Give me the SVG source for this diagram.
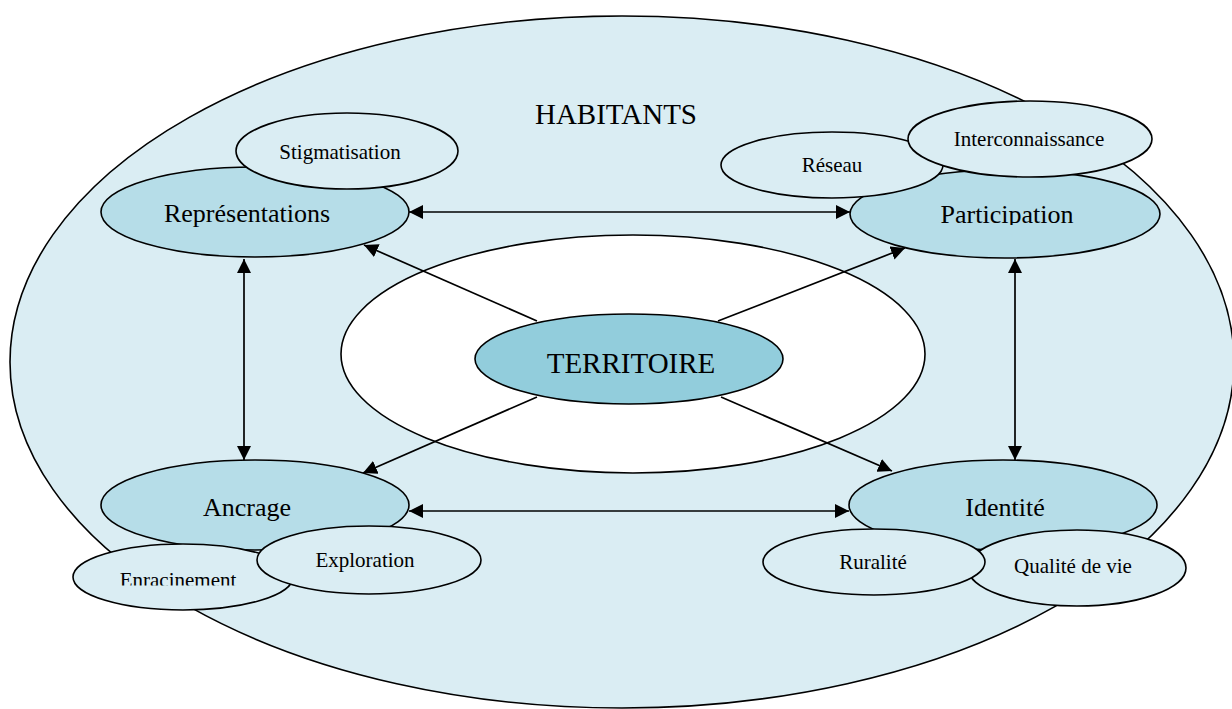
<svg xmlns="http://www.w3.org/2000/svg" width="1232" height="709" viewBox="0 0 1232 709">
<style>
ellipse{stroke:#000;stroke-width:1.6}
.bg{fill:#daedf3}
.main{fill:#b6dde8}
.center{fill:#92cddc}
.sub{fill:#daedf3}
.inner{fill:#fff}
text{font-family:"Liberation Serif","Times New Roman",serif;fill:#000;text-anchor:middle}
.t29{font-size:29px}
.t26{font-size:26px}
.t21{font-size:21px}
.conn line{stroke:#000;stroke-width:1.7;fill:none}
</style>
<defs>
<marker id="ah" viewBox="0 0 14 14" refX="14" refY="7" markerWidth="14" markerHeight="14" markerUnits="userSpaceOnUse" orient="auto-start-reverse">
<path d="M0,0 L14,7 L0,14 z" fill="#000"/>
</marker>
<clipPath id="clipPart"><rect x="0" y="0" width="1232" height="225"/></clipPath>
<clipPath id="clipEnr"><rect x="0" y="0" width="1232" height="585.5"/></clipPath>
</defs>
<rect width="1232" height="709" fill="#fff"/>
<g id="habitants">
<ellipse class="bg" cx="622" cy="362" rx="612" ry="346"/>
<text class="t29" x="616" y="124">HABITANTS</text>
</g>
<g id="zone-territoire">
<ellipse class="inner" cx="633" cy="354" rx="292" ry="119"/>
</g>
<g class="conn" id="connectors">
<line x1="409" y1="212" x2="850" y2="212" marker-start="url(#ah)" marker-end="url(#ah)"/>
<line x1="409" y1="511" x2="849" y2="511" marker-start="url(#ah)" marker-end="url(#ah)"/>
<line x1="244" y1="259" x2="244" y2="460" marker-start="url(#ah)" marker-end="url(#ah)"/>
<line x1="1015" y1="259" x2="1015" y2="460" marker-start="url(#ah)" marker-end="url(#ah)"/>
<line x1="537" y1="321" x2="364" y2="245" marker-end="url(#ah)"/>
<line x1="718" y1="321" x2="905" y2="248" marker-end="url(#ah)"/>
<line x1="537" y1="397" x2="363" y2="473" marker-end="url(#ah)"/>
<line x1="721" y1="397" x2="892" y2="471" marker-end="url(#ah)"/>
</g>
<g id="territoire">
<ellipse class="center" cx="629" cy="359" rx="154" ry="45"/>
<text class="t29" x="631" y="373">TERRITOIRE</text>
</g>
<g id="representations">
<ellipse class="main" cx="255" cy="212" rx="154" ry="45"/>
<text class="t26" x="247" y="222">Représentations</text>
</g>
<g id="stigmatisation">
<ellipse class="sub" cx="347" cy="151" rx="111" ry="38"/>
<text class="t21" x="340" y="159">Stigmatisation</text>
</g>
<g id="participation">
<ellipse class="main" cx="1005" cy="214" rx="155" ry="44"/>
<text class="t26" x="1007" y="223" clip-path="url(#clipPart)">Participation</text>
</g>
<g id="reseau">
<ellipse class="sub" cx="832" cy="165" rx="111" ry="33"/>
<text class="t21" x="832" y="172">Réseau</text>
</g>
<g id="interconnaissance">
<ellipse class="sub" cx="1030" cy="139" rx="122" ry="38"/>
<text class="t21" x="1029" y="146">Interconnaissance</text>
</g>
<g id="ancrage">
<ellipse class="main" cx="255" cy="505" rx="154" ry="45"/>
<text class="t26" x="247" y="516">Ancrage</text>
</g>
<g id="enracinement">
<ellipse class="sub" cx="183" cy="577" rx="110" ry="33"/>
<text class="t21" x="178" y="587" clip-path="url(#clipEnr)">Enracinement</text>
</g>
<g id="exploration">
<ellipse class="sub" cx="369" cy="560" rx="112" ry="34"/>
<text class="t21" x="365" y="567">Exploration</text>
</g>
<g id="identite">
<ellipse class="main" cx="1003" cy="505" rx="154" ry="45"/>
<text class="t26" x="1005" y="516">Identité</text>
</g>
<g id="qualite">
<ellipse class="sub" cx="1077" cy="568" rx="109" ry="38"/>
<text class="t21" x="1073" y="573">Qualité de vie</text>
</g>
<g id="ruralite">
<ellipse class="sub" cx="874" cy="562" rx="111" ry="33"/>
<text class="t21" x="873" y="569">Ruralité</text>
</g>
</svg>
